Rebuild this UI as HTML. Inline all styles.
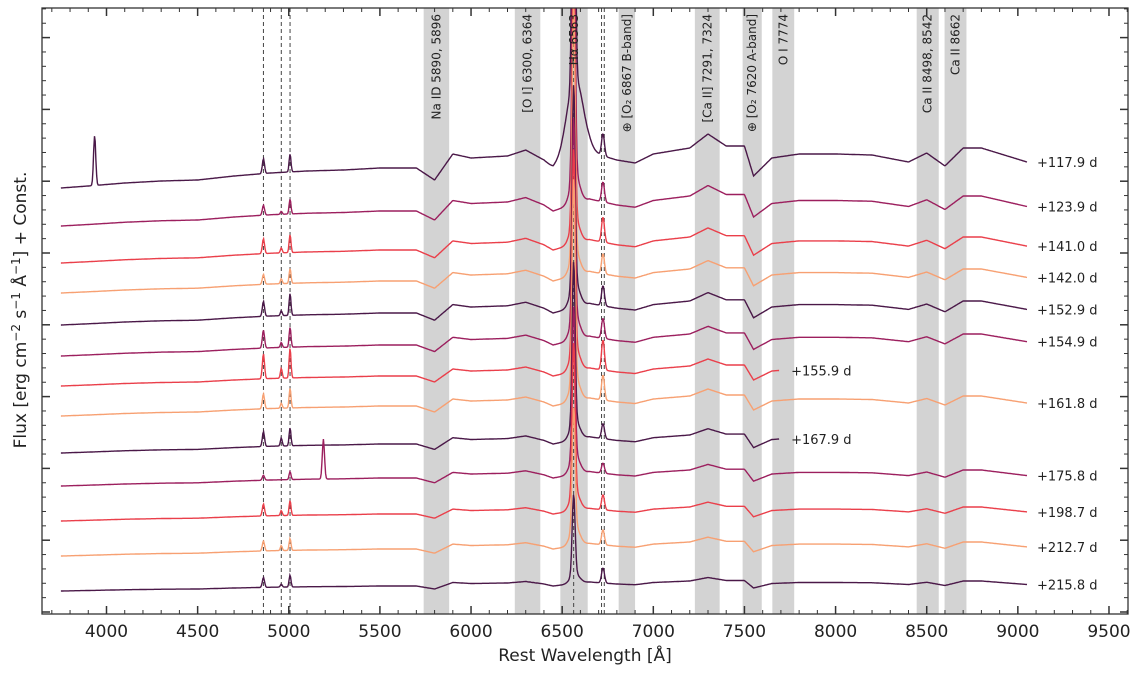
<!DOCTYPE html>
<html><head><meta charset="utf-8"><style>
html,body{margin:0;padding:0;background:#fff;}
svg{display:block;font-family:"DejaVu Sans","Liberation Sans",sans-serif;}
</style></head><body>
<svg id="chart" width="1144" height="676" viewBox="0 0 1144 676" xmlns="http://www.w3.org/2000/svg">
<g id="bands"></g>
<g id="dashes"></g>
<g id="spectra"></g>
<g id="bandlabels"></g>
<g id="axes"></g>
<text x="585" y="661" font-size="17" text-anchor="middle" fill="#222">Rest Wavelength [Å]</text>
<text transform="translate(26,310) rotate(-90)" font-size="17" text-anchor="middle" fill="#222">Flux [erg cm<tspan dy="-6" font-size="12">−2</tspan><tspan dy="6"> s</tspan><tspan dy="-6" font-size="12">−1</tspan><tspan dy="6"> Å</tspan><tspan dy="-6" font-size="12">−1</tspan><tspan dy="6">] + Const.</tspan></text>
</svg>
<script>
// ---- data ----
const epochs = ["+117.9 d","+123.9 d","+141.0 d","+142.0 d","+152.9 d","+154.9 d","+155.9 d","+161.8 d","+167.9 d","+175.8 d","+198.7 d","+212.7 d","+215.8 d"];
const colors = ["#4a1848","#9c1f5e","#ea3f4a","#f7a072","#4a1848","#9c1f5e","#ea3f4a","#f7a072","#4a1848","#9c1f5e","#ea3f4a","#f7a072","#4a1848"];
const baseLevel = [42.6,38.8,35.1,32.1,28.9,25.8,22.8,19.8,16.1,12.8,9.3,5.8,2.3];
const shapeScale = [1.0,0.75,0.65,0.6,0.6,0.55,0.5,0.5,0.45,0.4,0.35,0.35,0.25];
const endWave = [9050,9050,9050,9050,9050,9050,7690,9050,7690,9050,9050,9050,9050];
const shapeWaves = [3750,3900,4100,4300,4500,4700,4900,5100,5300,5500,5700,5800,5900,6000,6200,6300,6400,6450,6650,6800,6900,7000,7200,7300,7400,7500,7550,7650,7800,8000,8200,8400,8500,8600,8700,8800,9050];
const shapeVals  = [0,0.2,0.5,0.7,0.8,1.2,1.5,1.7,1.8,2.0,2.0,0.8,3.4,3.0,3.2,3.8,2.8,2.0,3.6,2.8,2.5,3.4,4.0,5.4,4.2,4.2,1.2,3.0,3.4,3.4,3.3,2.6,3.5,2.2,4.0,4.0,2.6];
const hBeta = [1.5,1.0,1.5,1.0,1.5,1.8,2.5,1.5,1.5,0.5,1.2,1.0,1.0];
const oiii4959 = [0,0.3,0.5,0.5,0.5,0.5,1.0,0.5,0.8,0,0.5,0.5,0.3];
const oiii5007 = [1.8,1.5,1.8,1.5,2.2,2.0,3.0,2.0,1.8,0.8,1.5,1.2,1.2];
const hAlpha = [40,30,25,25,20,20,20,20,16,15,15,12,8];
const hAlphaBroad = [8,3,2.5,2.5,2.5,2.5,2.5,2.5,2,2,2,2,1];
const sii = [2.2,2.0,2.5,2.0,2.0,2.0,3.0,2.5,1.5,1.0,1.5,1.5,1.5];
const spikeWave = [3935,0,0,0,0,0,0,0,0,5190,0,0,0];
const spikeAmp = [5,0,0,0,0,0,0,0,0,4,0,0,0];
const bandLo = [5740,6240,6490,6810,7228,7490,7653,8445,8598];
const bandHi = [5880,6380,6640,6900,7364,7595,7773,8566,8718];
const bandText = ["Na ID 5890, 5896","[O I] 6300, 6364","Hα 6563","⊕ [O₂ 6867 B-band]","[Ca II] 7291, 7324","⊕ [O₂ 7620 A-band]","O I 7774","Ca II 8498, 8542","Ca II 8662"];
const dashWaves = [4861,4959,5007,6563,6716,6731];
const xTicks = [4000,4500,5000,5500,6000,6500,7000,7500,8000,8500,9000,9500];

// ---- scales ----
const L=42,R=1128,T=8,B=614;
const X = w => 106.5 + (w-4000)*0.18227;
const Y = f => B - f*10;
const NS="http://www.w3.org/2000/svg";
function mk(tag,attrs,parent){const e=document.createElementNS(NS,tag);for(const k in attrs)e.setAttribute(k,attrs[k]);parent.appendChild(e);return e;}
const svg=document.getElementById('chart');
const defs=mk('defs',{},svg);
const cp=mk('clipPath',{id:'clip'},defs);
mk('rect',{x:L,y:T,width:R-L,height:B-T},cp);

const gb=document.getElementById('bands');
for(let i=0;i<bandLo.length;i++){
  const r=mk('rect',{x:X(bandLo[i]),y:T,width:X(bandHi[i])-X(bandLo[i]),height:B-T,fill:'#d3d3d3'},gb);
  
  
}
const gd=document.getElementById('dashes');
dashWaves.forEach((w,i)=>{
  const l=mk('line',{x1:X(w),x2:X(w),y1:T,y2:B,stroke:'#444','stroke-width':1,'stroke-dasharray':'4,3'},gd);
  
  
});

function interp(w){
  if(w<=shapeWaves[0])return shapeVals[0];
  for(let i=1;i<shapeWaves.length;i++){if(w<=shapeWaves[i]){const t=(w-shapeWaves[i-1])/(shapeWaves[i]-shapeWaves[i-1]);return shapeVals[i-1]+t*(shapeVals[i]-shapeVals[i-1]);}}
  return shapeVals[shapeVals.length-1];
}
const g=(w,c,s)=>Math.exp(-0.5*((w-c)/s)**2);
const gs=document.getElementById('spectra');
for(let k=0;k<epochs.length;k++){
  let d='';
  for(let w=3750;w<=endWave[k];w+=4){
    let f=baseLevel[k]+shapeScale[k]*interp(w);
    f+=hBeta[k]*g(w,4861,6)+oiii4959[k]*g(w,4959,5)+oiii5007[k]*g(w,5007,5);
    f+=hAlpha[k]*g(w,6563,8)+hAlphaBroad[k]*g(w,6570,k===0?45:25);
    f+=sii[k]*g(w,6724,8);
    if(spikeAmp[k])f+=spikeAmp[k]*g(w,spikeWave[k],6);
    d+=(d?'L':'M')+X(w).toFixed(1)+','+Y(f).toFixed(1);
  }
  const p=mk('path',{d:d,fill:'none',stroke:colors[k],'stroke-width':1.4,'clip-path':'url(#clip)'},gs);
  
  
  const endF=baseLevel[k]+shapeScale[k]*interp(endWave[k]);
  const tx=endWave[k]<9000?X(endWave[k])+12:1037;
  const t=mk('text',{x:tx,y:Y(endF)+5,'font-size':13,fill:'#222'},gs);
  t.textContent=epochs[k];
  
  
}
const gl=document.getElementById('bandlabels');
for(let i=0;i<bandText.length;i++){
  const cx=(X(bandLo[i])+X(bandHi[i]))/2+4;
  const t=mk('text',{transform:`translate(${cx},14) rotate(-90)`,'text-anchor':'end','font-size':12,fill:'#222'},gl);
  t.textContent=bandText[i];
  
  
}
const ga=document.getElementById('axes');
mk('rect',{x:L,y:T,width:R-L,height:B-T,fill:'none',stroke:'#333','stroke-width':1.3},ga);
for(let w=3700;w<=9600;w+=100){
  const x=X(w); if(x<L||x>R)continue;
  const major=w%500===0, len=major?8:4;
  mk('line',{x1:x,x2:x,y1:B,y2:B-len,stroke:'#333','stroke-width':major?1.5:1},ga);
  mk('line',{x1:x,x2:x,y1:T,y2:T+len,stroke:'#333','stroke-width':major?1.5:1},ga);
}
xTicks.forEach(w=>{
  const t=mk('text',{x:X(w),y:B+23,'text-anchor':'middle','font-size':17,fill:'#222'},ga);
  t.textContent=w;
  
  
});
for(let i=0;i<=43;i++){
  const y=B-2-i*14.36; if(y<T)break;
  const major=i%5===0,len=major?8:4;
  mk('line',{x1:L,x2:L+len,y1:y,y2:y,stroke:'#333','stroke-width':major?1.5:1},ga);
  mk('line',{x1:R,x2:R-len,y1:y,y2:y,stroke:'#333','stroke-width':major?1.5:1},ga);
}
</script>
</body></html>
